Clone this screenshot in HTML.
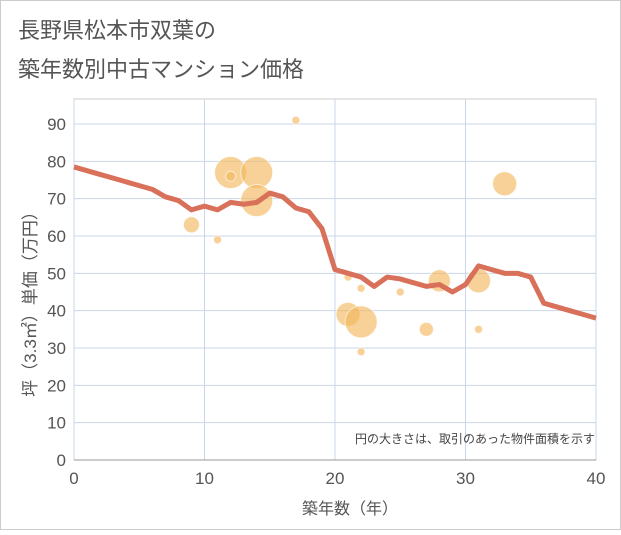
<!DOCTYPE html>
<html><head><meta charset="utf-8"><style>
body{margin:0;background:#fff;font-family:"Liberation Sans","Noto Sans CJK JP",sans-serif;}
</style></head><body>
<svg width="621" height="530" xmlns="http://www.w3.org/2000/svg">
<rect x="0.5" y="0.5" width="620" height="529" fill="#fff" stroke="#ccc"/>
<text x="18" y="38" font-size="22" fill="#555" font-family="Liberation Sans,Noto Sans CJK JP,sans-serif">長野県松本市双葉の</text>
<text x="18" y="77" font-size="22" fill="#555" font-family="Liberation Sans,Noto Sans CJK JP,sans-serif">築年数別中古マンション価格</text>
<g id="grid"></g>
<g id="bubbles"></g>
<g id="line"></g>
<g id="axes"></g>
<text x="595" y="443" font-size="12" fill="#444" text-anchor="end" font-family="Liberation Sans,Noto Sans CJK JP,sans-serif">円の大きさは、取引のあった物件面積を示す</text>
<text x="350" y="514" font-size="16" fill="#555" text-anchor="middle" font-family="Liberation Sans,Noto Sans CJK JP,sans-serif">築年数（年）</text>
<text transform="translate(36,300) rotate(-90)" font-size="17" fill="#555" text-anchor="middle" font-family="Liberation Sans,Noto Sans CJK JP,sans-serif">坪（3.3㎡）単価（万円）</text>
</svg>
<script>
const xTicks=[0,10,20,30,40];
const yTicks=[0,10,20,30,40,50,60,70,80,90];
const lineYears=[0,1,2,3,4,5,6,7,8,9,10,11,12,13,14,15,16,17,18,19,20,21,22,23,24,25,26,27,28,29,30,31,32,33,34,35,36,37,38,39,40];
const linePrices=[78.5,77.5,76.5,75.5,74.5,73.5,72.5,70.5,69.5,67,68,67,69,68.5,69,71.5,70.5,67.5,66.5,62,51,50,49,46.5,49,48.5,47.5,46.5,47,45,47,52,51,50,50,49,42,41,40,39,38];
const bubbleYears=[9,11,12,12,14,14,17,21,22,21,22,22,25,27,28,31,31,33];
const bubblePrices=[63,59,77,76,77,69.5,91,49,46,39,37,29,45,35,48,48,35,74];
const bubbleSizes=[8,4,16,5,16,16,4,4,4,12,16,4,4,7,11,12,4,12];
const NS="http://www.w3.org/2000/svg";
const X0=74,X1=596,Y0=460,Y1=99;
const xs=v=>X0+(v-0)/40*(X1-X0);
const ys=v=>Y0-v/96.7*(Y0-Y1);
function mk(t,a,p){const e=document.createElementNS(NS,t);for(const k in a)e.setAttribute(k,a[k]);p.appendChild(e);return e;}
const grid=document.getElementById('grid'),axes=document.getElementById('axes');
mk('rect',{x:X0,y:Y1,width:X1-X0,height:Y0-Y1,fill:'none',stroke:'#ccc'},grid);
yTicks.forEach(t=>{const l=mk('line',{x1:X0,x2:X1,y1:ys(t),y2:ys(t),stroke:'#c9d7e8','stroke-width':1},grid);

const tx=mk('text',{x:X0-8,y:ys(t)+6,'font-size':17,fill:'#555','text-anchor':'end'},axes);tx.textContent=t;
});
xTicks.forEach(t=>{const l=mk('line',{x1:xs(t),x2:xs(t),y1:Y1,y2:Y0,stroke:'#c9d7e8','stroke-width':1},grid);

const tx=mk('text',{x:xs(t),y:Y0+24,'font-size':17,fill:'#555','text-anchor':'middle'},axes);tx.textContent=t;
});
mk('line',{x1:X0,x2:X1,y1:Y0,y2:Y0,stroke:'#999'},axes);
const bg=document.getElementById('bubbles');
bubbleYears.forEach((y,i)=>{const c=mk('circle',{cx:xs(y),cy:ys(bubblePrices[i]),r:bubbleSizes[i],fill:'#f3b860','fill-opacity':0.65,stroke:'#fff','stroke-opacity':0.6},bg);
});
const pts=lineYears.map((y,i)=>xs(y)+','+ys(linePrices[i])).join(' ');
const pl=mk('polyline',{points:pts,fill:'none',stroke:'#d9705a','stroke-width':5,'stroke-linejoin':'round'},document.getElementById('line'));

</script>
</body></html>
